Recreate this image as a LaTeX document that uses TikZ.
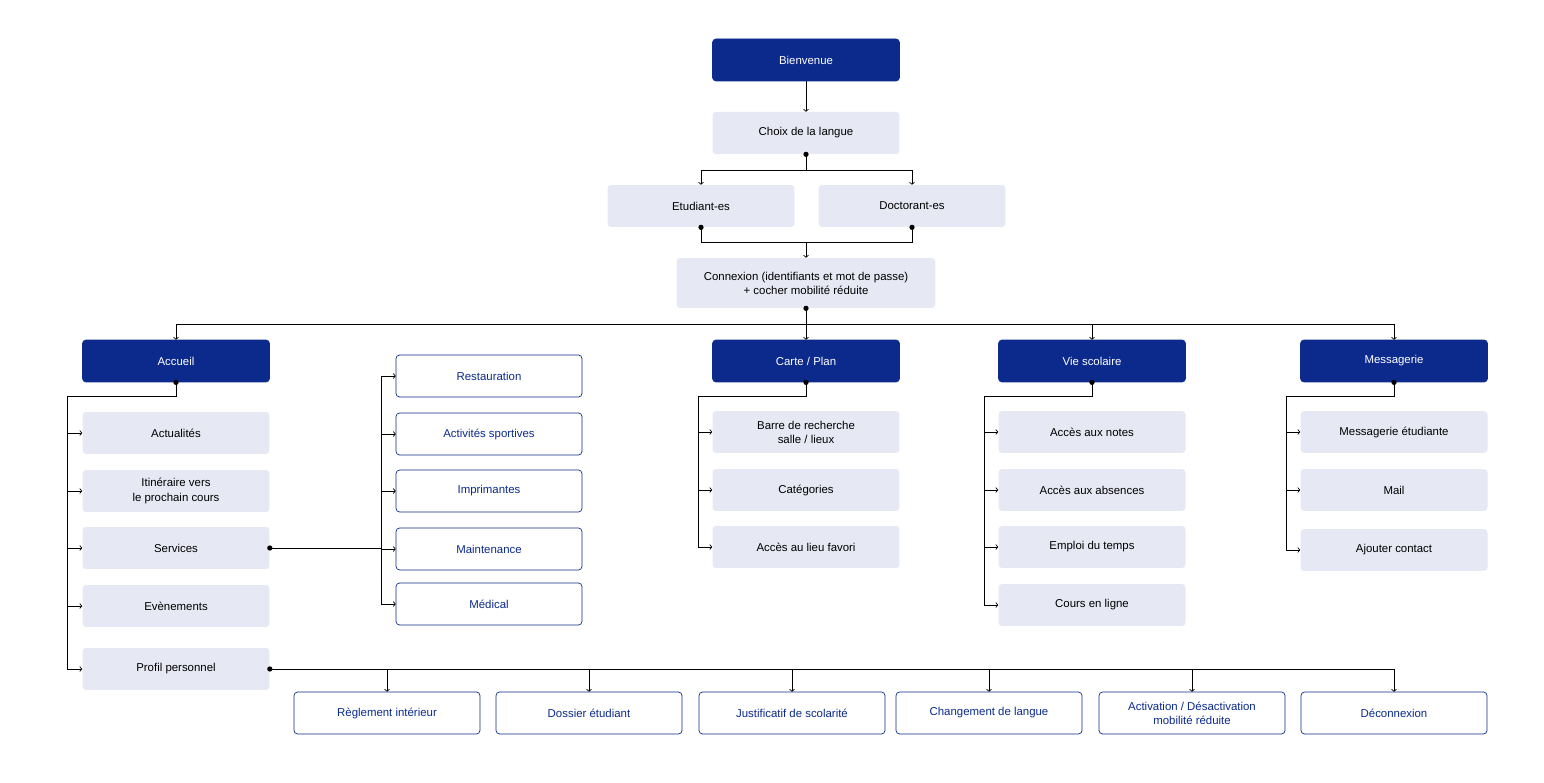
\documentclass[tikz,border=0pt]{standalone}
\usepackage{fontspec}
\setmainfont{Liberation Sans}
\usetikzlibrary{positioning,arrows.meta}
\definecolor{navy}{HTML}{0B2A8C}
\definecolor{pale}{HTML}{E6E8F3}
\tikzset{
  head/.style={draw=navy,fill=navy,text=white,rounded corners=2pt,minimum width=3.74cm,minimum height=0.84cm,font=\fontsize{6.5}{8}\selectfont,align=center},
  item/.style={fill=pale,rounded corners=2pt,minimum width=3.74cm,minimum height=0.84cm,font=\fontsize{6.5}{8}\selectfont,align=center},
  sub/.style={draw=navy,fill=white,text=navy,rounded corners=2pt,minimum width=3.72cm,minimum height=0.84cm,font=\fontsize{6.5}{8}\selectfont,align=center},
  link/.style={-{To[length=1.5pt,width=3pt]},line width=0.4pt},
  dot/.style={circle,fill=black,inner sep=0pt,minimum size=3pt}
}
\begin{document}
\begin{tikzpicture}[x=0.02cm,y=-0.02cm]
	\useasboundingbox (0,0) rectangle (1544,783);
	% top of the tree
	\node[head] (bienvenue) at (806,60) {Bienvenue};
	\node[item] (langue) at (806,133) {Choix de la langue};
	\node[item] (etudiant) at (701,206) {Etudiant-es};
	\node[item] (doctorant) at (912,206) {Doctorant-es};
	\node[item,minimum width=5.18cm,minimum height=1cm] (connexion) at (806,283)
		{Connexion (identifiants et mot de passe)\\+ cocher mobilité réduite};
	\draw[link] (bienvenue) -- (langue);
	\draw[link] (langue.south) -- ++(0,16) -| (etudiant);
	\draw[link] (langue.south) -- ++(0,16) -| (doctorant);
	\node[dot] at (langue.south) {};
	\draw (etudiant.south) -- ++(0,15) -| (doctorant.south);
	\node[dot] at (etudiant.south) {};
	\node[dot] at (doctorant.south) {};
	\coordinate (join) at (806,242);
	\draw[link] (join) -- (connexion);
	% main sections
	\node[head] (accueil) at (176,361) {Accueil};
	\node[head] (carte) at (806,361) {Carte / Plan};
	\node[head] (vie) at (1092,361) {Vie scolaire};
	\node[head] (messagerie) at (1394,361) {Messagerie};
	\coordinate (bus) at (806,324);
	\foreach \s in {accueil,carte,vie,messagerie}
		\draw[link] (connexion.south) -- (bus) -| (\s);
	\node[dot] at (connexion.south) {};
	% accueil
	\foreach \t/\y/\n in {Actualités/433/a1,{Itinéraire vers\\le prochain cours}/491/a2,Services/548/a3,Evènements/606/a4,Profil personnel/669/a5}{
		\node[item] (\n) at (176,\y) {\t};
		\draw[link] (accueil.south) -- ++(0,14) -| (67,\y) -- (\n);
	}
	\node[dot] at (accueil.south) {};
	% services
	\foreach \t/\y/\n in {Restauration/376/s1,Activités sportives/434/s2,Imprimantes/491/s3,Maintenance/549/s4,Médical/604/s5}{
		\node[sub] (\n) at (489,\y) {\t};
		\draw[link] (a3.east) -- (381,548) |- (\n);
	}
	\node[dot] at (a3.east) {};
	% carte
	\foreach \t/\y/\n in {{Barre de recherche\\salle / lieux}/432/c1,Catégories/490/c2,Accès au lieu favori/547/c3}{
		\node[item] (\n) at (806,\y) {\t};
		\draw[link] (carte.south) -- ++(0,14) -| (698,\y) -- (\n);
	}
	\node[dot] at (carte.south) {};
	% vie scolaire
	\foreach \t/\y/\n in {Accès aux notes/432/v1,Accès aux absences/490/v2,Emploi du temps/547/v3,Cours en ligne/605/v4}{
		\node[item] (\n) at (1092,\y) {\t};
		\draw[link] (vie.south) -- ++(0,14) -| (984,\y) -- (\n);
	}
	\node[dot] at (vie.south) {};
	% messagerie
	\foreach \t/\y/\n in {Messagerie étudiante/432/m1,Mail/490/m2,Ajouter contact/550/m3}{
		\node[item] (\n) at (1394,\y) {\t};
		\draw[link] (messagerie.south) -- ++(0,14) -| (1286,\y) -- (\n);
	}
	\node[dot] at (messagerie.south) {};
	% profil
	\foreach \t/\x/\n in {Règlement intérieur/387/p1,Dossier étudiant/589/p2,Justificatif de scolarité/792/p3,Changement de langue/989/p4,{Activation / Désactivation\\mobilité réduite}/1192/p5,Déconnexion/1394/p6}{
		\node[sub] (\n) at (\x,713) {\t};
		\draw[link] (a5.east) -| (\n);
	}
	\node[dot] at (a5.east) {};
\end{tikzpicture}
\end{document}
